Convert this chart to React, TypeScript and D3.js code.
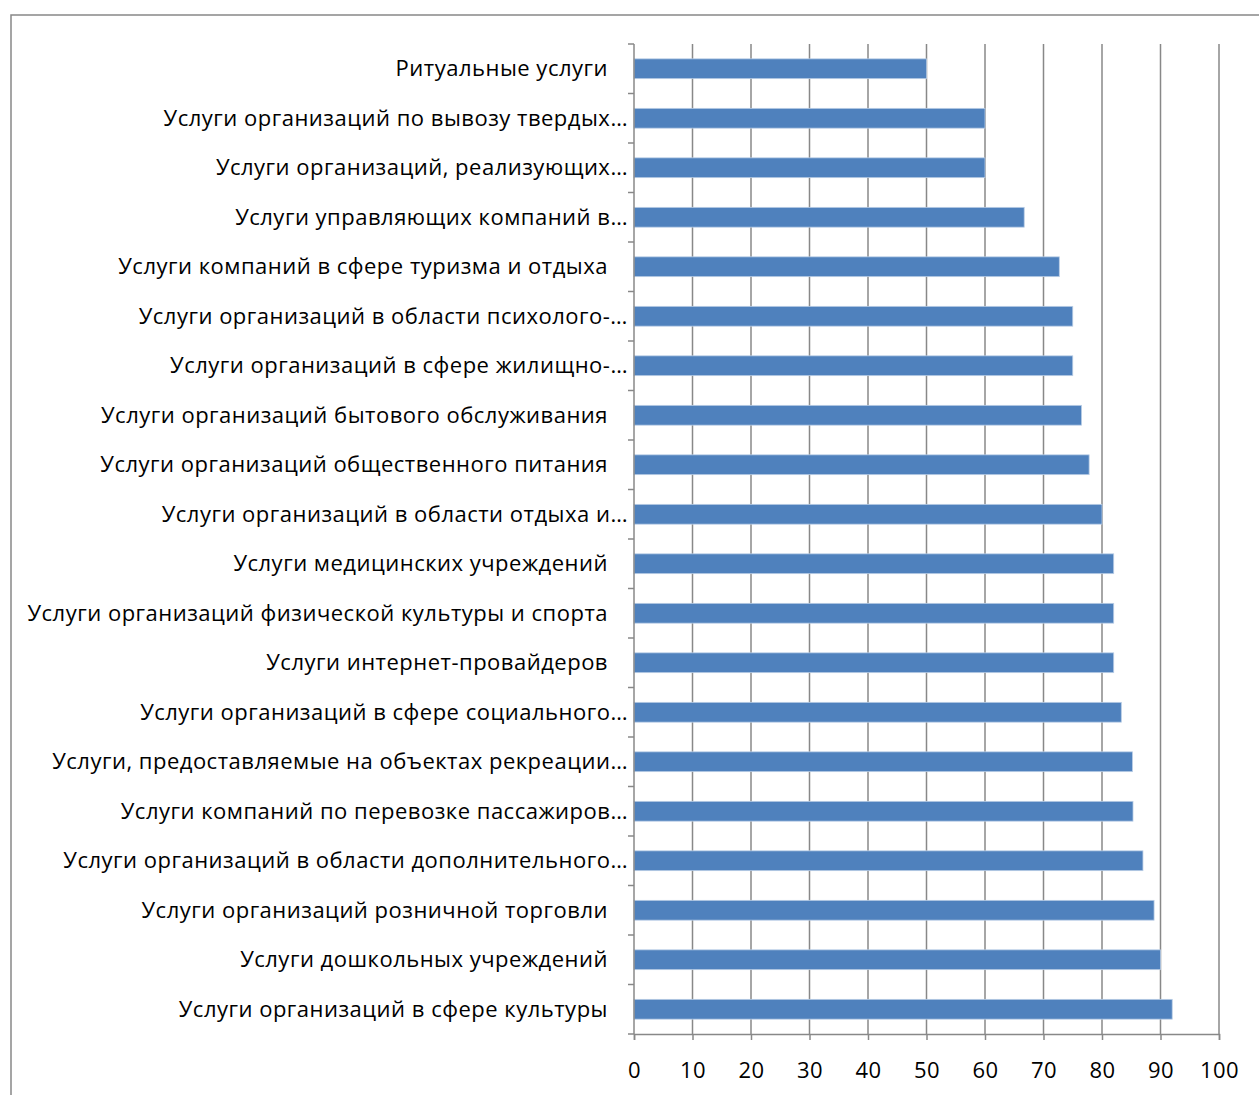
import React from 'react';
import { scaleBand, scaleLinear, select, axisBottom, range } from 'd3';

const categories = [
  'Ритуальные услуги',
  'Услуги организаций по вывозу твердых…',
  'Услуги организаций, реализующих…',
  'Услуги управляющих компаний в…',
  'Услуги компаний в сфере туризма и отдыха',
  'Услуги организаций в области психолого-…',
  'Услуги организаций в сфере жилищно-…',
  'Услуги организаций бытового обслуживания',
  'Услуги организаций общественного питания',
  'Услуги организаций в области отдыха и…',
  'Услуги медицинских учреждений',
  'Услуги организаций физической культуры и спорта',
  'Услуги интернет-провайдеров',
  'Услуги организаций в сфере социального…',
  'Услуги, предоставляемые на объектах рекреации…',
  'Услуги компаний по перевозке пассажиров…',
  'Услуги организаций в области дополнительного…',
  'Услуги организаций розничной торговли',
  'Услуги дошкольных учреждений',
  'Услуги организаций в сфере культуры',
];

const values = [50, 60, 60, 66.7, 72.7, 75, 75, 76.5, 77.8, 80, 82, 82, 82, 83.3, 85.2, 85.3, 87, 88.9, 90, 92];

const xTicks = [0, 10, 20, 30, 40, 50, 60, 70, 80, 90, 100];

const W = 1259;
const H = 1095;
const plot = { left: 634, right: 1219, top: 44, bottom: 1034 };
const fontFamily = '"Open Sans", "DejaVu Sans", sans-serif';
const gridColor = '#888888';

const App: React.FC = () => {
  const ref = React.useRef<SVGSVGElement>(null);

  React.useEffect(() => {
    const svg = select(ref.current);
    svg.selectAll('*').remove();

    const x = scaleLinear().domain([0, 100]).range([plot.left, plot.right]);
    const y = scaleBand<string>()
      .domain(categories)
      .range([plot.top, plot.bottom])
      .paddingInner(0.6)
      .paddingOuter(0.3);

    // outer frame
    svg.append('rect')
      .attr('x', 11).attr('y', 15)
      .attr('width', W).attr('height', H)
      .attr('fill', 'none')
      .attr('stroke', gridColor)
      .attr('stroke-width', 1.5);

    // vertical gridlines
    svg.append('g')
      .selectAll('line')
      .data(xTicks.slice(1))
      .enter().append('line')
      .attr('x1', d => x(d)).attr('x2', d => x(d))
      .attr('y1', plot.top).attr('y2', plot.bottom)
      .attr('stroke', gridColor)
      .attr('stroke-width', 1.5);

    // bars
    svg.append('g')
      .selectAll('rect')
      .data(categories)
      .enter().append('rect')
      .attr('x', x(0))
      .attr('y', d => y(d)!)
      .attr('width', (d, i) => x(values[i]) - x(0))
      .attr('height', y.bandwidth())
      .attr('fill', '#4f81bd')
      .attr('stroke', '#b9cde5')
      .attr('stroke-width', 0.8);

    // x axis
    const xAxis = axisBottom(x).tickValues(xTicks).tickSize(6).tickPadding(22).tickFormat(d => `${d}`);
    const xg = svg.append('g')
      .attr('transform', `translate(0, ${plot.bottom})`)
      .call(xAxis);
    xg.select('.domain').attr('stroke', gridColor).attr('stroke-width', 1.5);
    xg.selectAll('.tick line').attr('stroke', gridColor).attr('stroke-width', 1.5);
    xg.selectAll('.tick text')
      .attr('font-family', fontFamily)
      .attr('font-size', 22)
      .attr('letter-spacing', 0.5)
      .attr('fill', '#000');

    // y axis line and category boundary ticks
    const boundaries = range(categories.length + 1).map(i => plot.top + i * (plot.bottom - plot.top) / categories.length);
    const yLine = svg.append('g');
    yLine.append('line')
      .attr('x1', plot.left).attr('x2', plot.left)
      .attr('y1', plot.top).attr('y2', plot.bottom)
      .attr('stroke', gridColor).attr('stroke-width', 1.5);
    yLine.selectAll('line.tk')
      .data(boundaries)
      .enter().append('line')
      .attr('class', 'tk')
      .attr('x1', plot.left - 6).attr('x2', plot.left)
      .attr('y1', d => d).attr('y2', d => d)
      .attr('stroke', gridColor).attr('stroke-width', 1.5);

    // category labels
    svg.append('g')
      .selectAll('text')
      .data(categories)
      .enter().append('text')
      .attr('x', d => (d.endsWith('…') ? 628 : 608))
      .attr('y', d => y(d)! + y.bandwidth() / 2)
      .attr('dy', '0.35em')
      .attr('text-anchor', 'end')
      .attr('font-family', fontFamily)
      .attr('font-size', 22)
      .attr('letter-spacing', 0.5)
      .attr('fill', '#000')
      .text(d => d);
  }, []);

  return (
    <div style={{ position: 'absolute', left: 0, top: 0 }}>
      <svg ref={ref} width={W} height={H} style={{ display: 'block', background: '#fff' }} />
    </div>
  );
};

export default App;
